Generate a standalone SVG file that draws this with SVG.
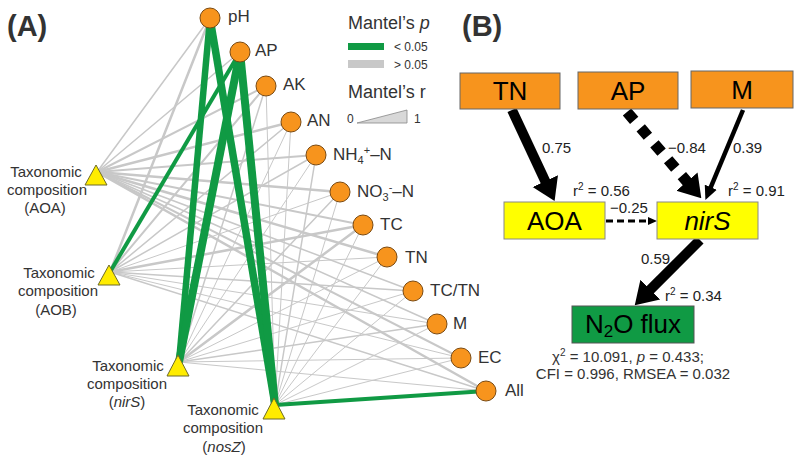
<svg xmlns="http://www.w3.org/2000/svg" width="797" height="459" viewBox="0 0 797 459">
<style>
text{font-family:"Liberation Sans",Arial,sans-serif;}
.lab{font-size:17px;fill:#333;}
.tax{font-size:15px;fill:#333;text-anchor:middle;}
.leg{font-size:12px;fill:#333;}
.legh{font-size:18px;fill:#333;}
.panel{font-size:29px;font-weight:bold;fill:#333;}
.g{stroke:#c8c8c8;fill:none;stroke-linecap:round;}
.s{stroke:#109a44;fill:none;stroke-linecap:butt;}
.node{fill:#f7941d;stroke:#7a4a12;stroke-width:1;}
.tri{fill:#ffec00;stroke:#6d6a2a;stroke-width:1;}
.ob{fill:#f7941d;stroke:#666;stroke-width:1;}
.yb{fill:#ffff00;stroke:#888;stroke-width:1;}
.gb{fill:#109a44;stroke:#555;stroke-width:1;}
.bt{font-size:26px;fill:#000;text-anchor:middle;}
.pt{font-size:15px;fill:#222;}
.st{font-size:15px;fill:#333;text-anchor:middle;}
.arr{stroke:#000;fill:none;}
</style>
<defs>
<marker id="headBig" markerUnits="userSpaceOnUse" viewBox="0 0 22 30" markerWidth="22" markerHeight="30" refX="1" refY="15" orient="auto">
<path d="M0,1 L22,15 L0,29 Z" fill="#000"/>
</marker>
<marker id="headMid" markerUnits="userSpaceOnUse" viewBox="0 0 14 14" markerWidth="14" markerHeight="14" refX="1" refY="7" orient="auto">
<path d="M0,0.5 L14,7 L0,13.5 Z" fill="#000"/>
</marker>
<marker id="headSmall" markerUnits="userSpaceOnUse" viewBox="0 0 9 9" markerWidth="9" markerHeight="9" refX="1" refY="4.5" orient="auto">
<path d="M0,0.5 L9,4.5 L0,8.5 Z" fill="#000"/>
</marker>
</defs>
<rect width="797" height="459" fill="#fff"/>
<text class="panel" x="7" y="36">(A)</text>
<text class="panel" x="462" y="36">(B)</text>

<g id="connectors">
<!-- AOA (97,172) -->
<line class="g" stroke-width="1.5" x1="97" y1="172" x2="210" y2="18"/>
<line class="g" stroke-width="1.5" x1="97" y1="172" x2="240" y2="52"/>
<line class="g" stroke-width="2" x1="97" y1="172" x2="266" y2="86"/>
<line class="g" stroke-width="2.5" x1="97" y1="172" x2="291" y2="122"/>
<line class="g" stroke-width="2" x1="97" y1="172" x2="316" y2="155"/>
<line class="g" stroke-width="2.5" x1="97" y1="172" x2="340" y2="192"/>
<line class="g" stroke-width="2" x1="97" y1="172" x2="363" y2="225"/>
<line class="g" stroke-width="2.5" x1="97" y1="172" x2="387" y2="257"/>
<line class="g" stroke-width="1.5" x1="97" y1="172" x2="413" y2="291"/>
<line class="g" stroke-width="1.5" x1="97" y1="172" x2="437" y2="324"/>
<line class="g" stroke-width="2" x1="97" y1="172" x2="461" y2="358"/>
<line class="g" stroke-width="2.5" x1="97" y1="172" x2="486" y2="391"/>
<!-- AOB (110,272) -->
<line class="g" stroke-width="2.5" x1="110" y1="272" x2="210" y2="18"/>
<line class="g" stroke-width="2" x1="110" y1="272" x2="266" y2="86"/>
<line class="g" stroke-width="1.5" x1="110" y1="272" x2="291" y2="122"/>
<line class="g" stroke-width="1.5" x1="110" y1="272" x2="316" y2="155"/>
<line class="g" stroke-width="1" x1="110" y1="272" x2="340" y2="192"/>
<line class="g" stroke-width="2.5" x1="110" y1="272" x2="363" y2="225"/>
<line class="g" stroke-width="1" x1="110" y1="272" x2="387" y2="257"/>
<line class="g" stroke-width="1.5" x1="110" y1="272" x2="413" y2="291"/>
<line class="g" stroke-width="1" x1="110" y1="272" x2="437" y2="324"/>
<line class="g" stroke-width="1" x1="110" y1="272" x2="461" y2="358"/>
<line class="g" stroke-width="1.5" x1="110" y1="272" x2="486" y2="391"/>
<!-- nirS (179,362) -->
<line class="g" stroke-width="1.5" x1="179" y1="362" x2="266" y2="86"/>
<line class="g" stroke-width="1" x1="179" y1="362" x2="291" y2="122"/>
<line class="g" stroke-width="1" x1="179" y1="362" x2="316" y2="155"/>
<line class="g" stroke-width="1.5" x1="179" y1="362" x2="340" y2="192"/>
<line class="g" stroke-width="2.5" x1="179" y1="362" x2="363" y2="225"/>
<line class="g" stroke-width="1" x1="179" y1="362" x2="387" y2="257"/>
<line class="g" stroke-width="1" x1="179" y1="362" x2="413" y2="291"/>
<line class="g" stroke-width="1.5" x1="179" y1="362" x2="437" y2="324"/>
<line class="g" stroke-width="1" x1="179" y1="362" x2="461" y2="358"/>
<line class="g" stroke-width="1" x1="179" y1="362" x2="486" y2="391"/>
<!-- nosZ (275,405) -->
<line class="g" stroke-width="1" x1="275" y1="405" x2="266" y2="86"/>
<line class="g" stroke-width="1" x1="275" y1="405" x2="291" y2="122"/>
<line class="g" stroke-width="1.5" x1="275" y1="405" x2="316" y2="155"/>
<line class="g" stroke-width="1" x1="275" y1="405" x2="340" y2="192"/>
<line class="g" stroke-width="1" x1="275" y1="405" x2="363" y2="225"/>
<line class="g" stroke-width="1" x1="275" y1="405" x2="387" y2="257"/>
<line class="g" stroke-width="1" x1="275" y1="405" x2="413" y2="291"/>
<line class="g" stroke-width="1" x1="275" y1="405" x2="437" y2="324"/>
<line class="g" stroke-width="1" x1="275" y1="405" x2="461" y2="358"/>
<!-- significant -->
<line class="s" stroke-width="4" x1="240" y1="52" x2="110" y2="272"/>
<line class="s" stroke-width="6.5" x1="210" y1="18" x2="179" y2="362"/>
<line class="s" stroke-width="8" x1="240" y1="52" x2="179" y2="362"/>
<line class="s" stroke-width="7.5" x1="210" y1="18" x2="275" y2="405"/>
<line class="s" stroke-width="8" x1="240" y1="52" x2="275" y2="405"/>
<line class="s" stroke-width="4" x1="275" y1="405" x2="486" y2="391"/>

<!-- panel B paths -->
<line class="arr" stroke-width="10" x1="512" y1="110" x2="545.7" y2="182.1" marker-end="url(#headBig)"/>
<line class="arr" stroke-width="11" stroke-dasharray="11 10" x1="627" y1="112" x2="687.6" y2="182.3" marker-end="url(#headBig)"/>
<line class="arr" stroke-width="4.5" x1="743" y1="110" x2="710.4" y2="188.1" marker-end="url(#headMid)"/>
<line class="arr" stroke-width="3" stroke-dasharray="7 4" x1="606" y1="221" x2="649" y2="221" marker-end="url(#headSmall)"/>
<line class="arr" stroke-width="10" x1="700" y1="240" x2="649.6" y2="290.4" marker-end="url(#headBig)"/>
</g>

<g id="legend">
<text class="legh" x="348" y="29">Mantel’s <tspan font-style="italic">p</tspan></text>
<rect x="348" y="43" width="36" height="7" fill="#109a44"/>
<text class="leg" x="394" y="51">&lt; 0.05</text>
<rect x="348" y="60" width="36" height="8" fill="#c8c8c8"/>
<text class="leg" x="394" y="69">&gt; 0.05</text>
<text class="legh" x="348" y="98">Mantel’s r</text>
<text class="leg" x="347" y="123" font-size="11">0</text>
<polygon points="357,123 407,110 407,123" fill="#d8d8d8" stroke="#888" stroke-width="0.8"/>
<text class="leg" x="414" y="123" font-size="11">1</text>
</g>

<g id="n-pH"><circle class="node" cx="210" cy="18" r="10"/><text class="lab" x="228" y="22">pH</text></g>
<g id="n-AP"><circle class="node" cx="240" cy="52" r="10"/><text class="lab" x="255" y="56">AP</text></g>
<g id="n-AK"><circle class="node" cx="266" cy="86" r="10"/><text class="lab" x="283" y="90">AK</text></g>
<g id="n-AN"><circle class="node" cx="291" cy="122" r="10"/><text class="lab" x="307" y="126">AN</text></g>
<g id="n-NH4"><circle class="node" cx="316" cy="155" r="10"/><text class="lab" x="333" y="160">NH<tspan font-size="11" dy="4">4</tspan><tspan font-size="11" dy="-10">+</tspan><tspan dy="6">–N</tspan></text></g>
<g id="n-NO3"><circle class="node" cx="340" cy="192" r="10"/><text class="lab" x="357" y="197">NO<tspan font-size="11" dy="4">3</tspan><tspan font-size="11" dy="-10">-</tspan><tspan dy="6">–N</tspan></text></g>
<g id="n-TC"><circle class="node" cx="363" cy="225" r="10"/><text class="lab" x="380" y="230">TC</text></g>
<g id="n-TN"><circle class="node" cx="387" cy="257" r="10"/><text class="lab" x="405" y="263">TN</text></g>
<g id="n-TCTN"><circle class="node" cx="413" cy="291" r="10"/><text class="lab" x="430" y="296">TC/TN</text></g>
<g id="n-M"><circle class="node" cx="437" cy="324" r="10"/><text class="lab" x="453" y="329">M</text></g>
<g id="n-EC"><circle class="node" cx="461" cy="358" r="10"/><text class="lab" x="478" y="363">EC</text></g>
<g id="n-All"><circle class="node" cx="486" cy="391" r="10"/><text class="lab" x="505" y="396">All</text></g>

<g id="t-AOA"><polygon class="tri" points="96,165 107,185 85,185"/>
<text class="tax" x="46" y="177">Taxonomic</text><text class="tax" x="47" y="195">composition</text><text class="tax" x="45" y="213">(AOA)</text></g>
<g id="t-AOB"><polygon class="tri" points="109,265 120,285 98,285"/>
<text class="tax" x="59" y="278">Taxonomic</text><text class="tax" x="58" y="296">composition</text><text class="tax" x="56" y="315">(AOB)</text></g>
<g id="t-nirS"><polygon class="tri" points="178,355 189,376 167,376"/>
<text class="tax" x="128" y="371">Taxonomic</text><text class="tax" x="127" y="389">composition</text><text class="tax" x="127" y="407">(<tspan font-style="italic">nirS</tspan>)</text></g>
<g id="t-nosZ"><polygon class="tri" points="274,398 285,419 263,419"/>
<text class="tax" x="223" y="415">Taxonomic</text><text class="tax" x="223" y="433">composition</text><text class="tax" x="224" y="452">(<tspan font-style="italic">nosZ</tspan>)</text></g>

<g id="b-TN"><rect class="ob" x="460" y="73" width="100" height="36"/><text class="bt" x="510" y="100">TN</text></g>
<g id="b-AP"><rect class="ob" x="578" y="72" width="100" height="37"/><text class="bt" x="628" y="100">AP</text></g>
<g id="b-M"><rect class="ob" x="691" y="71" width="102" height="37"/><text class="bt" x="742" y="99">M</text></g>
<g id="b-AOA"><rect class="yb" x="504" y="202" width="101" height="37"/><text class="bt" x="554.5" y="230">AOA</text></g>
<g id="b-nirS"><rect class="yb" x="657" y="202" width="101" height="37"/><text class="bt" x="707.5" y="230" font-style="italic">nirS</text></g>
<g id="b-N2O"><rect class="gb" x="572" y="306" width="122" height="37"/><text class="bt" x="633" y="333">N<tspan font-size="17" dy="4">2</tspan><tspan dy="-4">O flux</tspan></text></g>

<g id="path-labels">
<text class="pt" x="542" y="153">0.75</text>
<text class="pt" x="668" y="153">−0.84</text>
<text class="pt" x="733" y="153">0.39</text>
<text class="pt" x="610" y="213">−0.25</text>
<text class="pt" x="641" y="264">0.59</text>
<text class="pt" x="573" y="196">r<tspan font-size="10" dy="-6">2</tspan><tspan dy="6"> = 0.56</tspan></text>
<text class="pt" x="728" y="196">r<tspan font-size="10" dy="-6">2</tspan><tspan dy="6"> = 0.91</tspan></text>
<text class="pt" x="665" y="301">r<tspan font-size="10" dy="-6">2</tspan><tspan dy="6"> = 0.34</tspan></text>
<text class="st" x="628" y="362">χ<tspan font-size="10" dy="-6">2</tspan><tspan dy="6"> = 10.091, </tspan><tspan font-style="italic">p</tspan> = 0.433;</text>
<text class="st" x="633" y="379">CFI = 0.996, RMSEA = 0.032</text>
</g>
</svg>
